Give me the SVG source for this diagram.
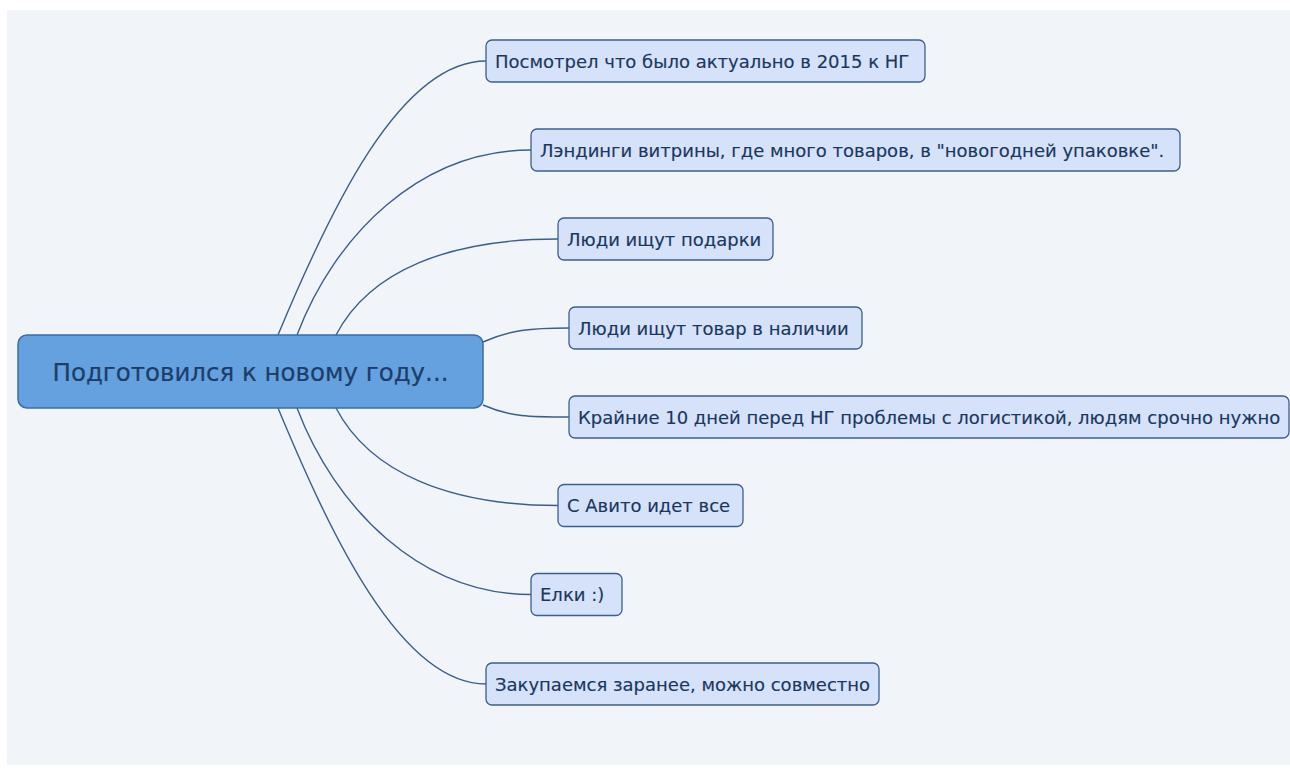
<svg xmlns="http://www.w3.org/2000/svg" width="1290" height="771" viewBox="0 0 1290 771">
<style>
.child rect{fill:#d5e2f9;stroke:#3d5f8e;stroke-width:1.3}
.child text{font-family:"DejaVu Sans",Verdana,sans-serif;font-size:18px;fill:#1a3760;stroke:#1a3760;stroke-width:0.15}
.conn path{fill:none;stroke:#3c5f8a;stroke-width:1.4}
</style>
<rect x="0" y="0" width="1290" height="771" fill="#ffffff"/>
<rect x="7" y="10" width="1283" height="755" fill="#f1f4f9"/>
<g class="conn" id="connectors">
<path d="M278,335 C330,210 400,61 486,61"/>
<path d="M297,335 C335,235 420,150 531,150"/>
<path d="M336,335 C370,270 450,239 558,239"/>
<path d="M483,342 C510,330 530,328 569,328"/>
<path d="M483,405 C510,417 530,417 569,417"/>
<path d="M336,408 C370,473 450,505.5 558,505.5"/>
<path d="M297,408 C335,508 420,594.5 531,594.5"/>
<path d="M278,408 C330,533 400,684 486,684"/>
</g>
<g id="root">
<rect x="18" y="335" width="465" height="73" rx="9" fill="#64a1de" stroke="#3a6ea6" stroke-width="1.5"/>
<text x="250.5" y="381" text-anchor="middle" font-family="DejaVu Sans,Verdana,sans-serif" font-size="24.5" fill="#1d3d68" stroke="#1d3d68" stroke-width="0.2">Подготовился к новому году...</text>
</g>
<g class="child" id="n1"><rect x="486" y="40" width="439" height="42" rx="6"/><text x="495" y="67.5">Посмотрел что было актуально в 2015 к НГ</text></g>
<g class="child" id="n2"><rect x="531" y="129" width="649" height="42" rx="6"/><text x="540" y="156.5">Лэндинги витрины, где много товаров, в "новогодней упаковке".</text></g>
<g class="child" id="n3"><rect x="558" y="218" width="215" height="42" rx="6"/><text x="567" y="245.5">Люди ищут подарки</text></g>
<g class="child" id="n4"><rect x="569" y="307" width="293" height="42" rx="6"/><text x="578" y="334.5">Люди ищут товар в наличии</text></g>
<g class="child" id="n5"><rect x="569" y="396" width="720" height="42" rx="6"/><text x="578" y="423.5">Крайние 10 дней перед НГ проблемы с логистикой, людям срочно нужно</text></g>
<g class="child" id="n6"><rect x="558" y="484.5" width="185" height="42" rx="6"/><text x="567" y="512">С Авито идет все</text></g>
<g class="child" id="n7"><rect x="531" y="573.5" width="91" height="42" rx="6"/><text x="540" y="601">Елки :)</text></g>
<g class="child" id="n8"><rect x="486" y="663" width="393" height="42" rx="6"/><text x="495" y="690.5">Закупаемся заранее, можно совместно</text></g>
</svg>
